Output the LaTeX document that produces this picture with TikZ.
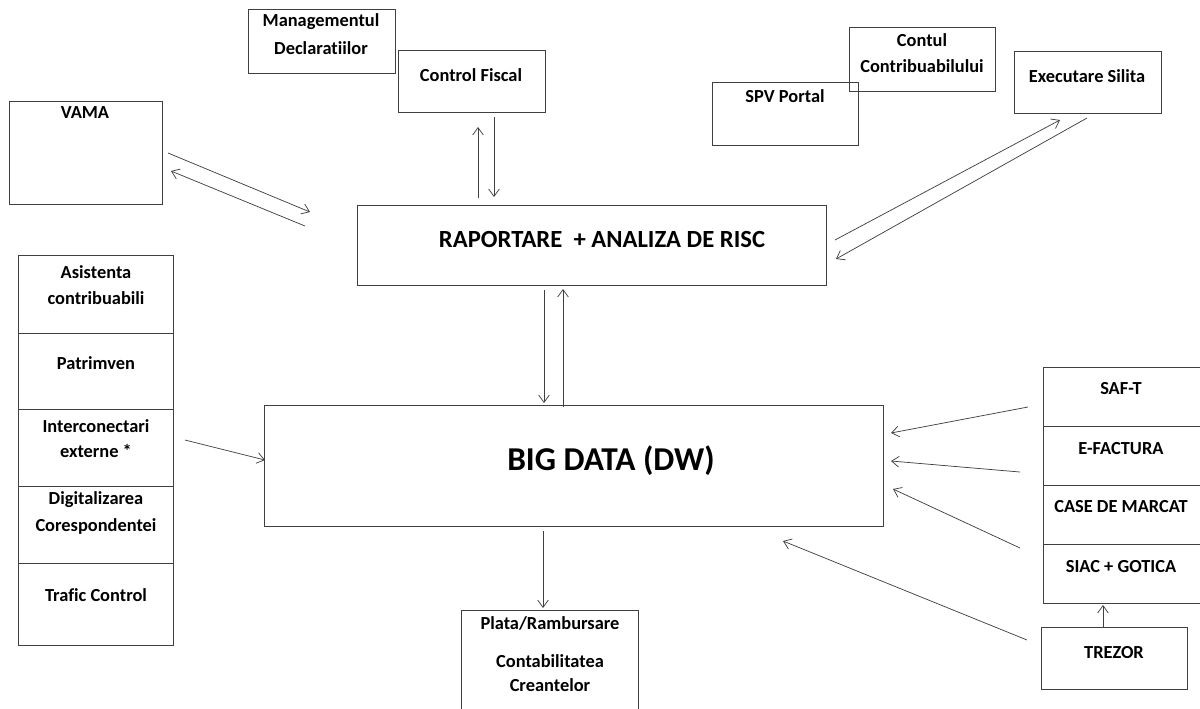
\documentclass[tikz,border=0pt]{standalone}
\usepackage{fontspec}
\setmainfont[Ligatures=NoCommon]{Carlito}
\usetikzlibrary{arrows.meta,calc}
\definecolor{ln}{HTML}{404040}
\tikzset{
  box/.style={draw=ln, line width=0.7pt, rectangle, inner sep=0pt, anchor=north west},
  txt/.style={font=\bfseries\fontsize{13.8}{16}\selectfont, text=black, inner sep=0pt, align=center},
  arr/.style={draw=ln, line width=0.55pt, -{Straight Barb[length=5.5pt,width=8pt]}}
}
\newcommand{\bx}[5]{\node[box, minimum width=#4*0.75pt-#2*0.75pt, minimum height=#5*0.75pt-#3*0.75pt] (#1) at (#2,#3) {};}
\begin{document}
\begin{tikzpicture}[x=0.75pt,y=-0.75pt]
\useasboundingbox (0,0) rectangle (1200,708);
% boxes
\bx{md}{248}{9}{395}{73}
\node[txt] (mdt1) at (321,22) {Managementul};
\node[txt] (mdt2) at (321,48) {Declaratiilor};
\bx{cf}{398}{50}{545}{112}
\node[txt] (cft) at (471,75) {Control Fiscal};
\bx{vama}{9}{101}{162}{204}
\node[txt] (vamat) at (85,113) {VAMA};
\bx{spv}{712}{82}{858}{145}
\node[txt] (spvt) at (785,96) {SPV Portal};
\bx{cc}{849}{27}{995}{91}
\node[txt] (cct1) at (922,40) {Contul};
\node[txt] (cct2) at (922,66) {Contribuabilului};
\bx{es}{1014}{51}{1161}{113}
\node[txt] (est) at (1087,76) {Executare Silita};
\bx{rap}{357}{205}{826}{285}
\node[txt, font=\bfseries\fontsize{18.5}{22}\selectfont] (rapt) at (602,239) {RAPORTARE \ + ANALIZA DE RISC};
\bx{bd}{264}{405}{883}{526}
\node[txt, font=\bfseries\fontsize{25}{30}\selectfont] (bdt) at (611,461) {BIG DATA (DW)};
% left stack
\bx{l1}{18}{255}{173}{333}
\bx{l2}{18}{333}{173}{409}
\bx{l3}{18}{409}{173}{486}
\bx{l4}{18}{486}{173}{563}
\bx{l5}{18}{563}{173}{645}
\node[txt] (l1a) at (96,272) {Asistenta};
\node[txt] (l1b) at (96,298) {contribuabili};
\node[txt] (l2a) at (96,363) {Patrimven};
\node[txt] (l3a) at (96,426) {Interconectari};
\node[txt] (l3b) at (96,451) {externe *};
\node[txt] (l4a) at (96,500) {Digitalizarea};
\node[txt] (l4b) at (96,526) {Corespondentei};
\node[txt] (l5a) at (96,595) {Trafic Control};
% right stack
\bx{r1}{1043}{367}{1201}{426}
\bx{r2}{1043}{426}{1201}{485}
\bx{r3}{1043}{485}{1201}{544}
\bx{r4}{1043}{544}{1201}{603}
\node[txt] (r1t) at (1121,389) {SAF-T};
\node[txt] (r2t) at (1121,449) {E-FACTURA};
\node[txt] (r3t) at (1121,507) {CASE DE MARCAT};
\node[txt] (r4t) at (1121,567) {SIAC + GOTICA};
\bx{tz}{1041}{627}{1187}{689}
\node[txt] (tzt) at (1114,653) {TREZOR};
\bx{pl}{461}{610}{638}{715}
\node[txt] (plt1) at (550,623) {Plata/Rambursare};
\node[txt] (plt2) at (550,661) {Contabilitatea};
\node[txt] (plt3) at (550,685) {Creantelor};
% connector end points
\coordinate (a1s) at (478,198); \coordinate (a1e) at (478,127);
\coordinate (a2s) at (494,117); \coordinate (a2e) at (494,197);
\coordinate (a3s) at (168,153); \coordinate (a3e) at (310,212);
\coordinate (a4s) at (305,226); \coordinate (a4e) at (171,171);
\coordinate (a5s) at (835,240); \coordinate (a5e) at (1060,120);
\coordinate (a6s) at (1087,118); \coordinate (a6e) at (836,259);
\coordinate (a7s) at (544,290); \coordinate (a7e) at (544,403);
\coordinate (a8s) at (563,407); \coordinate (a8e) at (563,289);
\coordinate (a9s) at (543,531); \coordinate (a9e) at (543,608);
\coordinate (a10s) at (185,440); \coordinate (a10e) at (265,460);
\coordinate (a11s) at (1028,407); \coordinate (a11e) at (891,433);
\coordinate (a12s) at (1020,472); \coordinate (a12e) at (891,461);
\coordinate (a13s) at (1020,548); \coordinate (a13e) at (893,489);
\coordinate (a14s) at (1027,640); \coordinate (a14e) at (783,541);
\coordinate (a15s) at (1103,627); \coordinate (a15e) at (1103,605);
\draw[arr] (a1s) -- (a1e);
\draw[arr] (a2s) -- (a2e);
\draw[arr] (a3s) -- (a3e);
\draw[arr] (a4s) -- (a4e);
\draw[arr] (a5s) -- (a5e);
\draw[arr] (a6s) -- (a6e);
\draw[arr] (a7s) -- (a7e);
\draw[arr] (a8s) -- (a8e);
\draw[arr] (a9s) -- (a9e);
\draw[arr] (a10s) -- (a10e);
\draw[arr] (a11s) -- (a11e);
\draw[arr] (a12s) -- (a12e);
\draw[arr] (a13s) -- (a13e);
\draw[arr] (a14s) -- (a14e);
\draw[arr] (a15s) -- (a15e);
\end{tikzpicture}
\end{document}
